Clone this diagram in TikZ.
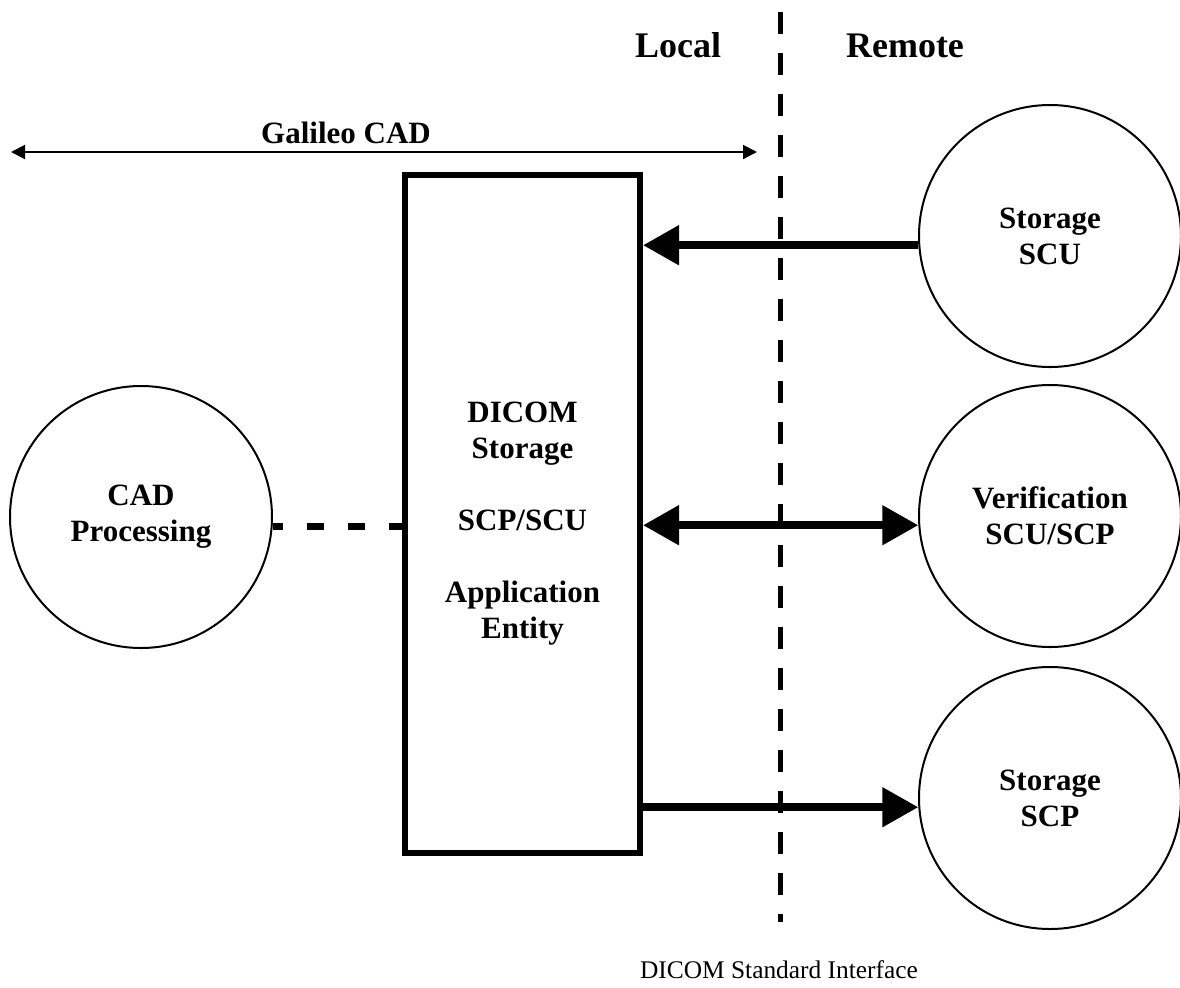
\documentclass[tikz,border=0pt]{standalone}
\usepackage{fontspec}
\setmainfont{Liberation Serif}
\usetikzlibrary{arrows.meta}
\tikzset{
  bigtip/.tip={Triangle[length=18pt,width=19pt]},
  smalltip/.tip={Triangle[length=7pt,width=7pt]},
  lbl/.style={font=\fontsize{15.5pt}{18pt}\selectfont\bfseries, align=center},
  circ/.style={circle, draw, line width=1pt, minimum size=131pt, inner sep=0pt, lbl},
  boxst/.style={draw, line width=3pt, minimum width=117.5pt, minimum height=339pt, inner sep=0pt},
  bigarrow/.style={line width=4pt},
  sidelbl/.style={font=\fontsize{18pt}{21pt}\selectfont\bfseries, anchor=base},
}
\begin{document}
\begin{tikzpicture}[x=0.5pt,y=-0.5pt]
\useasboundingbox[fill=white] (0,0) rectangle (1180,987);

% divider
\coordinate (vtop) at (780,12);
\coordinate (vbot) at (780,922);
\draw[line width=2.5pt, dash pattern=on 11pt off 9.5pt] (vtop) -- (vbot);

\node[sidelbl] (local) at (678,57) {Local};
\node[sidelbl] (remote) at (905,57) {Remote};

% Galileo CAD extent
\coordinate (gl) at (11,152);
\coordinate (gr) at (757,152);
\draw[line width=1pt, smalltip-smalltip] (gl) -- (gr);
\node[lbl, anchor=base] (gal) at (346,143) {Galileo CAD};

% nodes
\node[boxst] (box) at (522.5,514) {};
\node[lbl] (boxtxt) at (522.5,524) {DICOM\\Storage\\[18pt]SCP/SCU\\[18pt]Application\\Entity};

\node[circ] (cad) at (141,517) {CAD\\Processing};
\node[circ] (scu) at (1050,236) {Storage\\SCU};
\node[circ] (ver) at (1050,516) {Verification\\SCU/SCP};
\node[circ] (scp) at (1050,798) {Storage\\SCP};

% connectors
\draw[line width=3.5pt, dash pattern=on 8.5pt off 12pt, dash phase=3.5pt] (cad.-4.4) -- (cad.-4.4 -| box.west);
\draw[bigarrow, -bigtip] (scu.184) -- (scu.184 -| box.east);
\draw[bigarrow, bigtip-bigtip] (ver.184.8 -| box.east) -- (ver.184.8);
\draw[bigarrow, -bigtip] (scp.184 -| box.east) -- (scp.184);

\node[font=\fontsize{12.7pt}{15pt}\selectfont, anchor=base] (std) at (779,978) {DICOM Standard Interface};
\end{tikzpicture}
\end{document}
